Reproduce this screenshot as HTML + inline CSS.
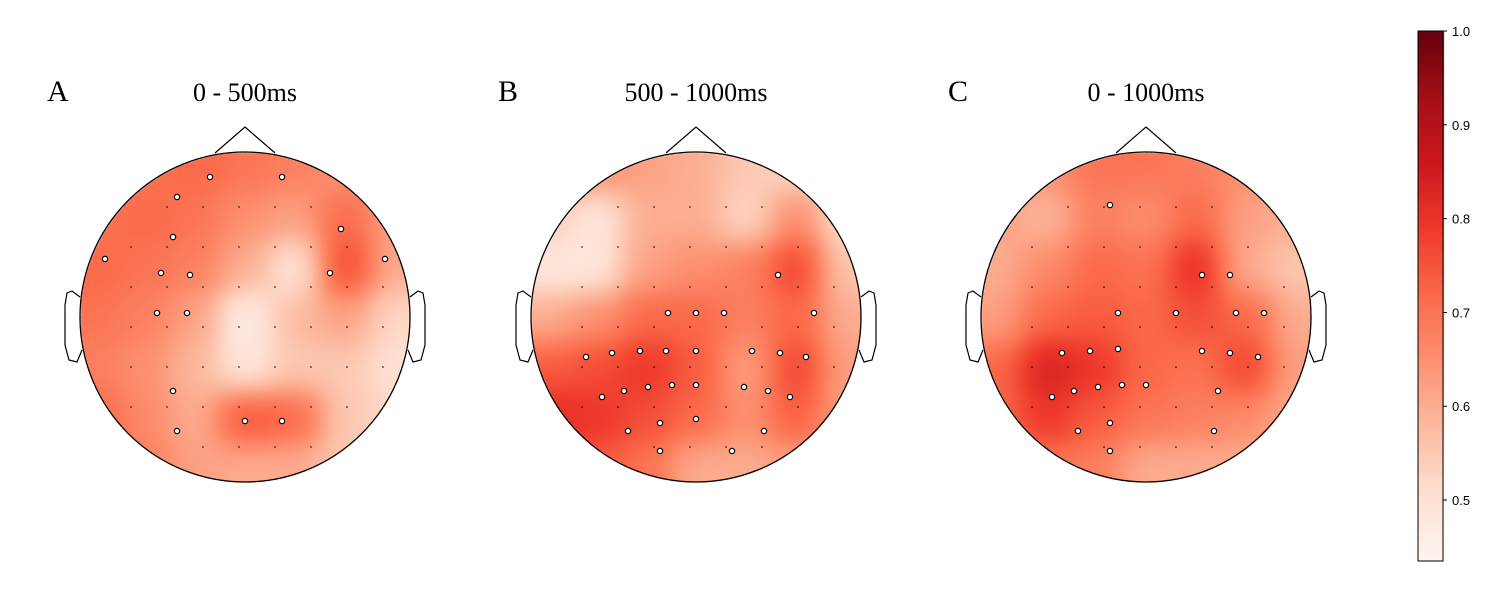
<!DOCTYPE html>
<html><head><meta charset="utf-8"><style>
body{margin:0;background:#fff;width:1500px;height:600px;overflow:hidden;position:relative;font-family:"Liberation Serif",serif}
canvas{position:absolute;left:0;top:0}
svg{position:absolute;left:0;top:0}
</style></head><body>
<canvas id="cv" width="1500" height="600"></canvas>
<svg id="sv" width="1500" height="600"></svg>
<script>
const panelLabels=["A","B","C"];
const panelTitles=["0 - 500ms","500 - 1000ms","0 - 1000ms"];
const panelCenters=[245,696,1146];
const gridA=[
[0.70,0.70,0.72,0.70,0.68,0.64,0.62],
[0.70,0.72,0.70,0.65,0.62,0.72,0.62],
[0.72,0.70,0.68,0.60,0.48,0.78,0.60],
[0.70,0.68,0.62,0.46,0.58,0.62,0.52],
[0.68,0.65,0.58,0.48,0.55,0.55,0.50],
[0.72,0.66,0.60,0.76,0.73,0.55,0.52],
[0.74,0.68,0.62,0.60,0.60,0.55,0.52]];
const gridB=[
[0.70,0.66,0.62,0.60,0.55,0.52,0.50],
[0.55,0.48,0.60,0.60,0.52,0.66,0.50],
[0.48,0.48,0.62,0.65,0.68,0.78,0.55],
[0.60,0.65,0.72,0.72,0.68,0.72,0.60],
[0.74,0.76,0.80,0.74,0.62,0.78,0.62],
[0.82,0.80,0.76,0.72,0.65,0.74,0.62],
[0.76,0.74,0.70,0.60,0.60,0.62,0.60]];
const gridC=[
[0.65,0.65,0.70,0.70,0.68,0.65,0.60],
[0.62,0.58,0.68,0.65,0.72,0.62,0.60],
[0.60,0.66,0.72,0.70,0.82,0.60,0.55],
[0.62,0.72,0.74,0.72,0.76,0.72,0.60],
[0.72,0.84,0.80,0.72,0.70,0.78,0.62],
[0.72,0.80,0.74,0.70,0.68,0.66,0.60],
[0.66,0.70,0.68,0.60,0.60,0.60,0.60]];
const grids=[gridA,gridB,gridC];
const markersA=[[-35,-140],[37,-140],[-68,-120],[-72,-80],[96,-88],[-140,-58],[-84,-44],[-55,-42],[85,-44],[140,-58],[-88,-4],[-58,-4],[-72,74],[0,104],[37,104],[-68,114]];
const markersB=[[-110,40],[-84,36],[-56,34],[-30,34],[0,34],[56,34],[84,36],[110,40],[-94,80],[-72,74],[-48,70],[-24,68],[0,68],[48,70],[72,74],[94,80],[-68,114],[-36,106],[0,102],[68,114],[-36,134],[36,134],[-28,-4],[0,-4],[28,-4],[118,-4],[82,-42]];
const markersC=[[-36,-112],[56,-42],[84,-42],[-84,36],[-56,34],[-28,32],[56,34],[84,36],[112,40],[-94,80],[-72,74],[-48,70],[-24,68],[0,68],[72,74],[-68,114],[-36,106],[-36,134],[68,114],[-28,-4],[30,-4],[90,-4],[118,-4]];
const markers=[markersA,markersB,markersC];
const cbTicks=[0.5,0.6,0.7,0.8,0.9,1.0];
const vmin=0.435,vmax=1.0;
const R=165,CY=317;
const stops=["#fff5f0","#fee0d2","#fcbba1","#fc9272","#fb6a4a","#ef3b2c","#cb181d","#a50f15","#67000d"].map(h=>[parseInt(h.slice(1,3),16),parseInt(h.slice(3,5),16),parseInt(h.slice(5,7),16)]);
function cmap(v){let t=Math.max(0,Math.min(1,(v-vmin)/(vmax-vmin)))*(stops.length-1);let i=Math.min(stops.length-2,Math.floor(t)),f=t-i;return stops[i].map((c,k)=>Math.round(c+(stops[i+1][k]-c)*f));}
const cv=document.getElementById('cv'),ctx=cv.getContext('2d');
const img=ctx.createImageData(1500,600);
function sample(g,dx,dy){
  let s=0,w=0;
  for(let r=0;r<7;r++)for(let c=0;c<7;c++){
    const gx=(c-3)*50,gy=(r-3)*50;const d2=(dx-gx)**2+(dy-gy)**2;
    const wt=Math.exp(-d2/(2*22*22));s+=wt*g[r][c];w+=wt;}
  return s/w;}
for(let p=0;p<3;p++){
  const cx=panelCenters[p];
  for(let y=CY-R;y<=CY+R;y++)for(let x=cx-R;x<=cx+R;x++){
    const dx=x-cx,dy=y-CY;if(dx*dx+dy*dy>R*R)continue;
    const col=cmap(sample(grids[p],dx,dy));const i=(y*1500+x)*4;
    img.data[i]=col[0];img.data[i+1]=col[1];img.data[i+2]=col[2];img.data[i+3]=255;}
}
for(let y=31;y<=561;y++){const v=vmax-(y-31)/(561-31)*(vmax-vmin);const col=cmap(v);
  for(let x=1418;x<=1443;x++){const i=(y*1500+x)*4;img.data[i]=col[0];img.data[i+1]=col[1];img.data[i+2]=col[2];img.data[i+3]=255;}}
ctx.putImageData(img,0,0);
const NS="http://www.w3.org/2000/svg",sv=document.getElementById('sv');
function mk(t,a,parent){const e=document.createElementNS(NS,t);for(const k in a)e.setAttribute(k,a[k]);(parent||sv).appendChild(e);return e;}
for(let p=0;p<3;p++){
  const cx=panelCenters[p];
  const g=mk('g',{});
  
  
  for(let gy=-150;gy<=150;gy+=40)for(let gx=-150;gx<=150;gx+=36){
    if(gx*gx+gy*gy>150*150)continue;
    const sd=mk('circle',{cx:cx+gx,cy:CY+gy,r:0.8,fill:'#000'},g);
    
    
  }
  const c=mk('circle',{cx:cx,cy:CY,r:R,fill:'none',stroke:'#000','stroke-width':1.3},g);
  
  
  const n=mk('path',{d:`M${cx-30} 153 L${cx} 127 L${cx+30} 153`,fill:'none',stroke:'#000','stroke-width':1.2},g);
  
  
  const el=mk('path',{d:`M${cx-165} 297 L${cx-173} 291 L${cx-178} 293 L${cx-180} 305 L${cx-180} 345 L${cx-176} 360 L${cx-168} 362 L${cx-163} 350`,fill:'none',stroke:'#000','stroke-width':1.2},g);
  
  
  const er=mk('path',{d:`M${cx+165} 297 L${cx+173} 291 L${cx+178} 293 L${cx+180} 305 L${cx+180} 345 L${cx+176} 360 L${cx+168} 362 L${cx+163} 350`,fill:'none',stroke:'#000','stroke-width':1.2},g);
  
  
  for(const m of markers[p]){
    const d=mk('circle',{cx:cx+m[0],cy:CY+m[1],r:2.7,fill:'#fff',stroke:'#000','stroke-width':1.1},g);
    
    
  }
  const L=mk('text',{x:cx-198,y:101,'font-size':30,'font-family':'Liberation Serif,serif'},g);L.textContent=panelLabels[p];
  
  
  const T=mk('text',{x:cx,y:101,'font-size':26,'text-anchor':'middle','font-family':'Liberation Serif,serif'},g);T.textContent=panelTitles[p];
  
  
}
const cb=mk('rect',{x:1418,y:31,width:25,height:530,fill:'none',stroke:'#000','stroke-width':1});


for(const t of cbTicks){
  const y=31+(vmax-t)/(vmax-vmin)*530;
  mk('line',{x1:1443,x2:1447,y1:y,y2:y,stroke:'#000'});
  const tx=mk('text',{x:1452,y:y+5,'font-size':13,'font-family':'Liberation Sans,sans-serif'});tx.textContent=t.toFixed(1);
  
  
}
</script>
</body></html>
